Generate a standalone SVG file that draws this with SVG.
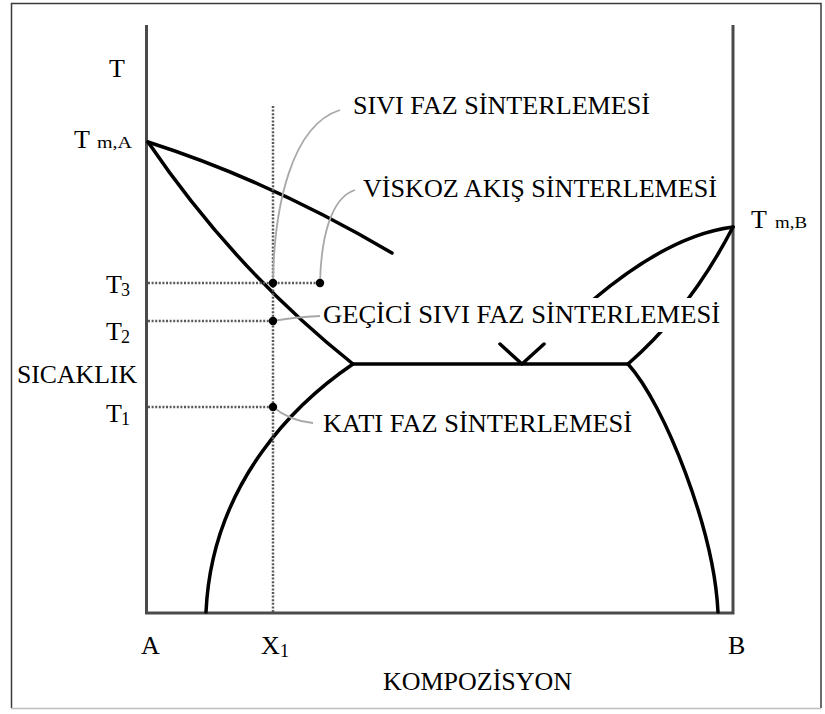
<svg xmlns="http://www.w3.org/2000/svg" width="825" height="714" viewBox="0 0 825 714">
<style>
.frame{fill:none;stroke:#3a3a3a;stroke-width:1.5}
.axis{fill:none;stroke:#4a4a4a;stroke-width:3}
.curve{fill:none;stroke:#000;stroke-width:3.5;stroke-linecap:round;stroke-linejoin:round}
.dot{fill:none;stroke:#5a5a5a;stroke-width:2.5;stroke-dasharray:2 1.6}
.lead{fill:none;stroke:#a8a8a8;stroke-width:1.8}
.pt{fill:#000}
text{font-family:"Liberation Serif","Times New Roman",serif;fill:#000}
.lbl{font-size:26px}
.sub{font-size:18px}
.sm{font-size:16px}
</style>
<rect width="825" height="714" fill="#fff"/>
<g id="frame">
<path class="frame" d="M11.5,708 V3.5 H821 V708"/>
<line x1="11" y1="708.5" x2="821" y2="708.5" stroke="#bdbdbd" stroke-width="1.5"/>
</g>
<g id="axes">
<path class="axis" d="M146.5,25 V613 H733 V25"/>
</g>
<g id="connectors">
<path class="curve" d="M148,142 Q270,181 392,253"/>
<path class="curve" d="M148,142 Q235,270 353,364"/>
<path class="curve" d="M353,364 H628"/>
<path class="curve" d="M500,344 L522,364 L544,344"/>
<path class="curve" d="M353,364 C300,400 212,480 206,612"/>
<path class="curve" d="M628,364 C665,405 714,530 718,612"/>
<path class="curve" d="M733,227 Q670,235 594,299"/>
<path class="curve" d="M628,364 Q690,310 733,227"/>
<path class="dot" d="M273,106 V612"/>
<path class="dot" d="M148,283 H320"/>
<path class="dot" d="M148,321 H273"/>
<path class="dot" d="M148,407 H273"/>
<path class="lead" d="M273,283 C274,205 292,125 340,110"/>
<path class="lead" d="M320,283 C321,240 330,198 355,190"/>
<path class="lead" d="M273,321 Q295,317 320,316"/>
<path class="lead" d="M273,407 Q290,421 313,423"/>
</g>
<rect x="560" y="298" width="164" height="34" fill="#fff"/>
<g id="points">
<circle class="pt" cx="273" cy="283" r="4.2"/>
<circle class="pt" cx="320" cy="283" r="4.2"/>
<circle class="pt" cx="273" cy="321" r="4.2"/>
<circle class="pt" cx="273" cy="407" r="4.2"/>
</g>
<g id="label-sivi"><text class="lbl" x="353" y="114" textLength="297" lengthAdjust="spacingAndGlyphs">SIVI FAZ SİNTERLEMESİ</text></g>
<g id="label-viskoz"><text class="lbl" x="363" y="197" textLength="354" lengthAdjust="spacingAndGlyphs">VİSKOZ AKIŞ SİNTERLEMESİ</text></g>
<g id="label-gecici"><text class="lbl" x="323" y="323" textLength="397" lengthAdjust="spacingAndGlyphs">GEÇİCİ SIVI FAZ SİNTERLEMESİ</text></g>
<g id="label-kati"><text class="lbl" x="323" y="432" textLength="309" lengthAdjust="spacingAndGlyphs">KATI FAZ SİNTERLEMESİ</text></g>
<g id="axis-labels">
<text class="lbl" x="109" y="77">T</text>
<text class="lbl" x="74" y="148">T</text><text class="sm" x="97" y="148" textLength="35" lengthAdjust="spacingAndGlyphs">m,A</text>
<text class="lbl" x="751" y="228">T</text><text class="sm" x="775" y="228" textLength="32" lengthAdjust="spacingAndGlyphs">m,B</text>
<text class="lbl" x="106" y="293">T</text><text class="sub" x="121" y="296">3</text>
<text class="lbl" x="106" y="340">T</text><text class="sub" x="121" y="343">2</text>
<text class="lbl" x="17" y="383" textLength="120" lengthAdjust="spacingAndGlyphs">SICAKLIK</text>
<text class="lbl" x="106" y="422">T</text><text class="sub" x="121" y="425">1</text>
<text class="lbl" x="141" y="654">A</text>
<text class="lbl" x="261" y="654">X</text><text class="sub" x="280" y="657">1</text>
<text class="lbl" x="728" y="654">B</text>
<text class="lbl" x="383" y="690" textLength="189" lengthAdjust="spacingAndGlyphs">KOMPOZİSYON</text>
</g>
</svg>
